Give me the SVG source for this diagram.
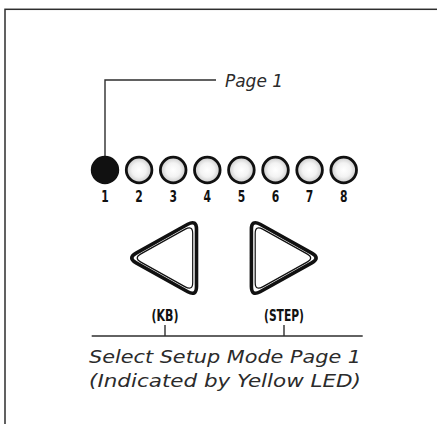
<svg xmlns="http://www.w3.org/2000/svg" xmlns:xlink="http://www.w3.org/1999/xlink" width="437" height="424" viewBox="0 0 437 424">
<style>
.line{fill:none;stroke:#2e2e2e;stroke-width:1.4}
.led{stroke:#111;stroke-width:2.8;fill:url(#ledg)}
.num{font-family:'DejaVu Sans',sans-serif;font-weight:bold;font-size:16px;fill:#111;text-anchor:middle}
.cap{font-family:'DejaVu Sans',sans-serif;font-style:italic;fill:#2b2b2b}
.btnout{fill:none;stroke:#111;stroke-width:3.6;stroke-linejoin:round}
.btnin{fill:none;stroke:#111;stroke-width:1.2;stroke-linejoin:round}
</style>
<defs>
<radialGradient id="ledg" cx="0.5" cy="0.5" r="0.5">
<stop offset="0" stop-color="#ffffff"/>
<stop offset="0.55" stop-color="#f3f3f3"/>
<stop offset="1" stop-color="#c9c9c9"/>
</radialGradient>
<g id="btn">
<path class="btnout" d="M136.13,253.12 L187.77,224.28 Q196.5,219.4 196.5,229.4 L196.5,286.6 Q196.5,296.6 187.77,291.72 L136.13,262.88 Q127.4,258 136.13,253.12 Z"/>
<path class="btnin" d="M140.92,253.86 L185.28,229.14 Q192.7,225 192.7,233.5 L192.7,282.5 Q192.7,291 185.28,286.86 L140.92,262.14 Q133.5,258 140.92,253.86 Z"/>
</g>
</defs>
<rect width="437" height="424" fill="#fff"/>
<rect id="frame" x="5" y="9.3" width="460" height="440" fill="none" stroke="#2e2e2e" stroke-width="1.5"/>
<g id="connectors">
<polyline class="line" points="216,80 105,80 105,156"/>
<polyline class="line" points="91.7,336 362.7,336"/>
<line class="line" x1="165" y1="325" x2="165" y2="336"/>
<line class="line" x1="284" y1="325" x2="284" y2="336"/>
</g>
<g id="page-label"><text class="cap" x="225" y="86.5" font-size="17" textLength="58" lengthAdjust="spacingAndGlyphs">Page 1</text></g>
<g id="led1"><circle cx="105" cy="170" r="12.8" fill="#111" stroke="#111" stroke-width="2.8"/><text class="num" x="105" y="201.7" textLength="7.5" lengthAdjust="spacingAndGlyphs">1</text></g>
<g id="led2"><circle class="led" cx="139.1" cy="170" r="12.8"/><text class="num" x="139.1" y="201.7" textLength="7.5" lengthAdjust="spacingAndGlyphs">2</text></g>
<g id="led3"><circle class="led" cx="173.2" cy="170" r="12.8"/><text class="num" x="173.2" y="201.7" textLength="7.5" lengthAdjust="spacingAndGlyphs">3</text></g>
<g id="led4"><circle class="led" cx="207.3" cy="170" r="12.8"/><text class="num" x="207.3" y="201.7" textLength="7.5" lengthAdjust="spacingAndGlyphs">4</text></g>
<g id="led5"><circle class="led" cx="241.4" cy="170" r="12.8"/><text class="num" x="241.4" y="201.7" textLength="7.5" lengthAdjust="spacingAndGlyphs">5</text></g>
<g id="led6"><circle class="led" cx="275.5" cy="170" r="12.8"/><text class="num" x="275.5" y="201.7" textLength="7.5" lengthAdjust="spacingAndGlyphs">6</text></g>
<g id="led7"><circle class="led" cx="309.6" cy="170" r="12.8"/><text class="num" x="309.6" y="201.7" textLength="7.5" lengthAdjust="spacingAndGlyphs">7</text></g>
<g id="led8"><circle class="led" cx="343.7" cy="170" r="12.8"/><text class="num" x="343.7" y="201.7" textLength="7.5" lengthAdjust="spacingAndGlyphs">8</text></g>
<g id="btn-kb"><use xlink:href="#btn"/><text class="num" x="165" y="320.5" textLength="27" lengthAdjust="spacingAndGlyphs">(KB)</text></g>
<g id="btn-step"><use xlink:href="#btn" transform="translate(447.9,0) scale(-1,1)"/><text class="num" x="284" y="320.5" textLength="40" lengthAdjust="spacingAndGlyphs">(STEP)</text></g>
<g id="caption">
<text class="cap" x="89" y="362.7" font-size="17.5" textLength="272" lengthAdjust="spacingAndGlyphs">Select Setup Mode Page 1</text>
<text class="cap" x="89" y="386.5" font-size="17.5" textLength="272" lengthAdjust="spacingAndGlyphs">(Indicated by Yellow LED)</text>
</g>
</svg>
